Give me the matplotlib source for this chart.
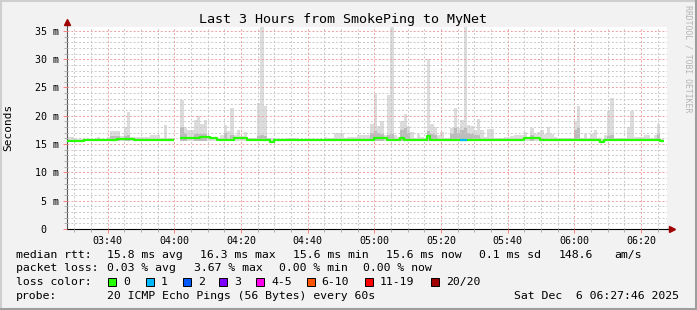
import numpy as np
import matplotlib
matplotlib.use("Agg")
import matplotlib.pyplot as plt
from matplotlib.lines import Line2D
from matplotlib.patches import Rectangle

W, H = 697, 310
nan = np.nan

## data (one value per minute, from 03:27:46)
start_min = 3 * 60 + 27 + 46 / 60

median = [
    15.5, 15.6, 15.6, 15.6, 15.6, 15.7, 15.7, 15.7, 15.7, 15.7,
    15.7, 15.7, 15.7, 15.7, 15.7, 15.9, 15.9, 15.9, 15.9, 15.9,
    15.7, 15.7, 15.7, 15.7, 15.7, 15.7, 15.7, 15.7, 15.7, 15.7,
    15.7, 15.7, nan, nan, 16.1, 16.1, 16.1, 16.1, 16.1, 16.1,
    16.2, 16.2, 16.2, 16.0, 16.0, 15.7, 15.7, 15.7, 15.7, 15.7,
    16.0, 16.0, 16.0, 16.0, 15.7, 15.7, 15.7, 15.7, 15.7, 15.7,
    15.7, 15.4, 15.7, 15.7, 15.7, 15.7, 15.7, 15.7, 15.7, 15.7,
    15.7, 15.7, 15.7, 15.7, 15.7, 15.7, 15.7, 15.7, 15.7, 15.7,
    15.7, 15.7, 15.7, 15.7, 15.7, 15.7, 15.7, 15.7, 15.7, 15.7,
    15.7, 15.7, 16.1, 16.1, 16.1, 16.1, 15.7, 15.7, 15.7, 15.7,
    16.0, 15.7, 15.7, 15.7, 15.7, 15.7, 15.7, 15.7, 16.4, 15.7,
    15.7, 15.7, 15.7, 15.7, 15.7, 15.7, 15.7, 15.7, 15.7, 15.7,
    15.7, 15.7, 15.7, 15.7, 15.7, 15.7, 15.7, 15.7, 15.7, 15.7,
    15.7, 15.7, 15.7, 15.7, 15.7, 15.7, 15.7, 16.1, 16.1, 16.1,
    16.1, 16.1, 15.7, 15.7, 15.7, 15.7, 15.7, 15.7, 15.7, 15.7,
    15.7, 15.7, 15.7, 15.7, 15.7, 15.7, 15.7, 15.7, 15.7, 15.7,
    15.4, 15.7, 15.7, 15.7, 15.7, 15.7, 15.7, 15.7, 15.7, 15.7,
    15.7, 15.7, 15.7, 15.7, 15.7, 15.7, 15.7, 15.7, 15.5, nan,
]

smoke_hi = [
    16.3, 16.3, 15.9, 15.9, 15.9, 15.9, 15.9, 15.9, 15.9, 16.3,
    15.9, 15.9, 16.3, 17.3, 17.3, 17.3, 16.5, 18.0, 20.7, 16.2,
    16.2, 16.2, 16.2, 16.3, 16.3, 16.6, 16.6, 16.6, 16.1, 18.3,
    16.0, 16.0, nan, nan, 22.8, 18.0, 17.5, 17.5, 19.2, 19.9,
    18.5, 19.2, 16.3, 16.1, 16.1, 16.1, 16.6, 18.3, 17.3, 21.4,
    16.6, 17.5, 16.5, 17.1, 16.0, 16.0, 16.0, 22.3, 35.7, 21.7,
    16.0, 16.0, 15.9, 15.9, 15.9, 15.9, 16.1, 16.1, 16.1, 15.9,
    15.9, 15.9, 15.9, 15.9, 15.9, 15.9, 15.9, 16.3, 16.0, 16.0,
    17.0, 17.0, 17.0, 16.0, 16.3, 16.3, 16.3, 16.6, 16.6, 16.6,
    16.6, 18.6, 23.8, 18.2, 19.0, 16.6, 23.6, 35.7, 16.6, 16.3,
    19.0, 20.3, 18.2, 17.2, 16.0, 16.8, 16.3, 16.0, 30.1, 18.5,
    18.0, 16.6, 17.2, 16.0, 16.0, 17.8, 21.3, 17.8, 19.3, 35.7,
    18.3, 18.2, 17.5, 19.4, 17.5, 16.3, 17.6, 17.6, 16.0, 16.0,
    16.0, 16.3, 16.3, 16.4, 16.6, 16.6, 16.6, 17.2, 16.3, 17.8,
    16.8, 17.2, 17.5, 16.8, 18.0, 16.8, 16.3, 16.0, 16.0, 16.0,
    16.0, 16.0, 19.1, 21.7, 16.0, 16.8, 16.0, 16.8, 17.5, 16.0,
    15.9, 16.6, 20.9, 23.2, 16.0, 16.0, 16.0, 16.0, 18.0, 20.9,
    16.3, 16.2, 16.2, 16.6, 16.6, 16.0, 16.6, 18.6, 15.9, nan,
]
smoke_floor = 15.5

# darker smoke near the median
dark_minutes = [13, 14, 15, 17, 18, 34, 35, 38, 39, 40, 41, 47, 49, 57, 58, 59,
                91, 92, 93, 94, 96, 97, 100, 101, 102, 108, 109, 110,
                115, 116, 117, 118, 119, 120, 121, 122, 123, 139, 152, 153,
                162, 163, 177]
dark_tops = [16.5, 16.5, 16.5, 16.5, 16.6, 18.0, 16.8, 16.8, 16.8, 16.8, 16.8,
             17.0, 16.6, 16.5, 16.6, 16.4,
             17.0, 17.3, 17.0, 16.8, 16.6, 16.8, 17.5, 17.8, 17.0, 17.4, 16.8, 16.6,
             16.8, 17.8, 17.0, 17.5, 17.8, 17.0, 16.8, 16.6, 16.6, 16.6, 17.5, 17.8,
             16.5, 16.6, 16.8]

loss_minutes = [118, 119]
loss_counts = [1, 1]

tick_minutes = [220, 240, 260, 280, 300, 320, 340, 360, 380]
tick_labels = ["03:40", "04:00", "04:20", "04:40", "05:00", "05:20", "05:40", "06:00", "06:20"]
ytick_values = [0, 5, 10, 15, 20, 25, 30, 35]
ytick_labels = ["0  ", "5 m", "10 m", "15 m", "20 m", "25 m", "30 m", "35 m"]

loss_names = ["0", "1", "2", "3", "4-5", "6-10", "11-19", "20/20"]
loss_colors = ["#26ff00", "#00b8ff", "#0059ff", "#7e00ff", "#ff00ea", "#ff5500", "#ff0000", "#a10000"]

mono = "DejaVu Sans Mono"

## figure
fig = plt.figure(figsize=(W / 100, H / 100), dpi=100, facecolor="#f2f2f2")

# frame of the canvas
fig.add_artist(Line2D([0, 1], [1 - 1 / H, 1 - 1 / H], color="#cfcfcf", lw=1.5, transform=fig.transFigure))
fig.add_artist(Line2D([1 / W, 1 / W], [0, 1], color="#cfcfcf", lw=1.5, transform=fig.transFigure))
fig.add_artist(Line2D([0, 1], [1 / H, 1 / H], color="#9e9e9e", lw=1.5, transform=fig.transFigure))
fig.add_artist(Line2D([1 - 1 / W, 1 - 1 / W], [0, 1], color="#9e9e9e", lw=1.5, transform=fig.transFigure))

x0, x1 = 67, 667
y0, y1 = 229, 26.7
ax = fig.add_axes([x0 / W, 1 - y0 / H, (x1 - x0) / W, (y0 - y1) / H])
ax.set_facecolor("white")

n = len(median)
left = start_min + np.arange(n)
med = np.array(median)
hi = np.array(smoke_hi)

ok = ~np.isnan(hi)
ax.bar(left[ok], hi[ok] - smoke_floor, bottom=smoke_floor, width=1, align="edge",
       color="#dcdcdc", linewidth=0, zorder=1)
dm = np.array(dark_minutes)
ax.bar(left[dm], np.array(dark_tops) - smoke_floor, bottom=smoke_floor, width=1, align="edge",
       color="#bcbcbc", linewidth=0, zorder=1.2)

edges = start_min + np.arange(n + 1)
ax.step(edges, np.append(med, med[-1]), where="post", color="#26ff00", lw=1.6, zorder=4,
        solid_capstyle="butt")
for m, c in zip(loss_minutes, loss_counts):
    ax.hlines(med[m], left[m], left[m] + 1, colors=loss_colors[c], lw=1.6, zorder=5)

ax.set_xlim(start_min, start_min + 180)
ax.set_ylim(0, 35.74)

ax.set_xticks(tick_minutes)
ax.set_xticklabels(tick_labels, family=mono, fontsize=7.2)
ax.set_xticks(np.arange(210, 390, 5), minor=True)
ax.set_yticks(ytick_values)
ax.set_yticklabels(ytick_labels, family=mono, fontsize=7.2)
ax.set_yticks(np.arange(0, 36, 1), minor=True)

ax.set_axisbelow(False)
ax.grid(which="minor", color="#c8c8c8", lw=0.7, linestyle=(0, (2, 2)), zorder=2)
ax.grid(which="major", color="#f0a0a0", lw=0.7, linestyle=(0, (2, 2)), zorder=2.5)

ax.tick_params(which="major", length=3, width=0.7, color="#ff8080", pad=2, labelcolor="#000000")
ax.tick_params(which="minor", length=2, width=0.7, color="#b0b0b0")
ax.tick_params(axis="y", pad=3)

for s in ["top", "right"]:
    ax.spines[s].set_visible(False)
ax.spines["left"].set_color("#555555")
ax.spines["left"].set_linewidth(0.8)
ax.spines["bottom"].set_color("#000000")
ax.spines["bottom"].set_linewidth(0.8)

# axis arrows
ax.plot([0, 0], [1, 1.02], transform=ax.transAxes, color="#555555", lw=0.8, clip_on=False)
ax.plot([0], [1.025], marker="^", ms=4.5, color="#a00000", transform=ax.transAxes, clip_on=False)
ax.plot([1, 1.006], [0, 0], transform=ax.transAxes, color="#000000", lw=0.8, clip_on=False)
ax.plot([1.008], [0], marker=">", ms=4.5, color="#a00000", transform=ax.transAxes, clip_on=False)

ax.set_ylabel("Seconds", family=mono, fontsize=8, labelpad=6)
ax.yaxis.set_label_coords(-54 / 600, 0.5)

fig.text(343 / W, 1 - 19 / H, "Last 3 Hours from SmokePing to MyNet", family=mono,
         fontsize=9.6, ha="center", va="center")
fig.text(688 / W, 1 - 5 / H, "RRDTOOL / TOBI OETIKER", family=mono, fontsize=5.9,
         color="#b4b4b4", rotation=-90, ha="center", va="top")

## legend
def ptext(x, y, s):
    fig.text(x / W, 1 - y / H, s, family=mono, fontsize=8.25, ha="left", va="center")

row1 = [("median rtt:", 16), ("15.8 ms avg", 107.3), ("16.3 ms max", 200), ("15.6 ms min", 292.7),
        ("15.6 ms now", 386), ("0.1 ms sd", 479.3), ("148.6", 559), ("am/s", 614)]
row2 = [("packet loss:", 16), ("0.03 % avg", 107.3), ("3.67 % max", 194.3), ("0.00 % min", 279.3),
        ("0.00 % now", 363.3)]
for s, x in row1:
    ptext(x, 254.7, s)
for s, x in row2:
    ptext(x, 268.3, s)

ptext(16, 282.3, "loss color:")
box_x = [108.3, 145.7, 182.7, 219, 256, 306.7, 365, 430.7]
for bx, name, col in zip(box_x, loss_names, loss_colors):
    fig.add_artist(Rectangle((bx / W, 1 - 286.3 / H), 8 / W, 8 / H, facecolor=col,
                             edgecolor="black", lw=0.7, transform=fig.transFigure))
    ptext(bx + 15, 282.3, name)

ptext(16, 296.3, "probe:")
ptext(107.3, 296.3, "20 ICMP Echo Pings (56 Bytes) every 60s")
ptext(514, 296.3, "Sat Dec  6 06:27:46 2025")

plt.savefig("out.png", dpi=100, facecolor=fig.get_facecolor())
plt.close(fig)
